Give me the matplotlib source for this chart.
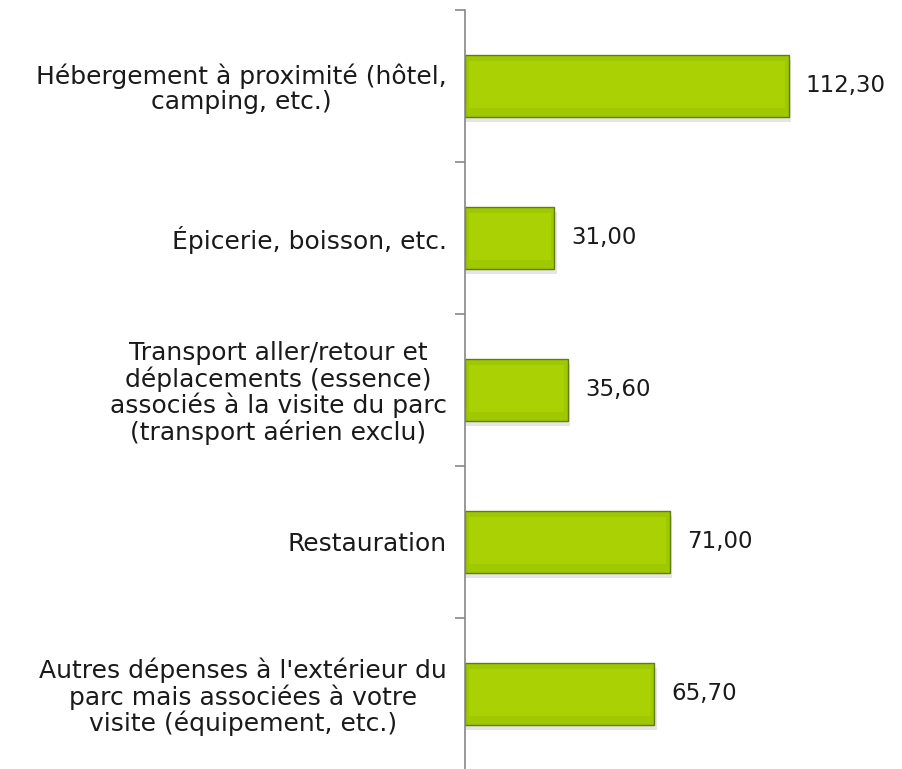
import numpy as np
import matplotlib
matplotlib.use("Agg")
import matplotlib.pyplot as plt

categories = [
    "Hébergement à proximité (hôtel,\ncamping, etc.)",
    "Épicerie, boisson, etc.",
    "Transport aller/retour et\ndéplacements (essence)\nassociés à la visite du parc\n(transport aérien exclu)",
    "Restauration",
    "Autres dépenses à l'extérieur du\nparc mais associées à votre\nvisite (équipement, etc.)",
]
values = [112.30, 31.00, 35.60, 71.00, 65.70]
value_labels = ["112,30", "31,00", "35,60", "71,00", "65,70"]

plt.rcParams["font.family"] = ["DejaVu Sans"]
fig = plt.figure(figsize=(9.03, 7.69), dpi=100)
ax = fig.add_axes([0.515, -0.001, 0.485, 0.988])

y = np.arange(len(categories))
h = 0.41
# soft shadow
ax.barh(y + 0.035, [v + 0.8 for v in values], height=h, left=0,
        color="#000000", alpha=0.10, lw=0, zorder=1)
ax.barh(y, values, height=h, color="#a0c800", edgecolor="#5f7d10",
        lw=1.0, zorder=2)
# bevel highlight
ax.barh(y - 0.01, [v - 2.4 for v in values], height=h * 0.76, left=1.2,
        color="#acd406", lw=0, alpha=0.8, zorder=3)

for yi, v, lab in zip(y, values, value_labels):
    ax.text(v + 6, yi, lab, va="center", ha="left", fontsize=16.5, color="#1a1a1a")

ax.set_xlim(0, 152)
ax.set_ylim(len(categories) - 0.5, -0.5)
ax.set_yticks(y)
ax.set_yticklabels(categories, fontsize=18, color="#1a1a1a", linespacing=1.05)
for t in ax.get_yticklabels():
    t.set_multialignment("center")
ax.tick_params(axis="y", which="major", length=0, pad=13)
ax.set_yticks(np.arange(-0.5, len(categories), 1.0), minor=True)
ax.tick_params(axis="y", which="minor", length=7, color="#888888", width=1.2)
ax.set_xticks([])
for s in ("top", "right", "bottom"):
    ax.spines[s].set_visible(False)
ax.spines["left"].set_color("#888888")
ax.spines["left"].set_linewidth(1.2)

fig.savefig("out.png", dpi=100)
